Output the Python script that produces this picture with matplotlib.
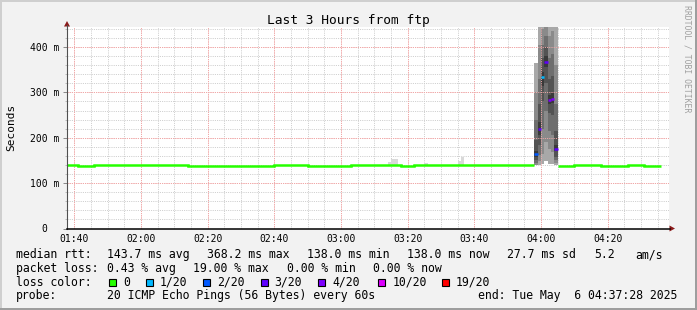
import matplotlib
matplotlib.use("Agg")
import matplotlib.pyplot as plt
from matplotlib.patches import Rectangle, Polygon
from matplotlib.lines import Line2D
from matplotlib.ticker import FixedLocator, MultipleLocator
import numpy as np

# ---------------- data ----------------
title = "Last 3 Hours from ftp"
view_start = "01:37:49"
view_end = "04:38:12"
x_tick_labels = ["01:40", "02:00", "02:20", "02:40", "03:00", "03:20", "03:40", "04:00", "04:20"]
y_tick_values = [0, 100, 200, 300, 400]
y_tick_labels = ["0  ", "100 m", "200 m", "300 m", "400 m"]
y_top = 444

# median rtt (ms), runs of whole minutes with 0 loss (green)
green_run_start = ["01:37", "01:41", "01:46", "01:50", "02:14", "02:40", "02:50", "03:03", "03:18",
                   "03:22", "03:43", "04:05", "04:10", "04:13", "04:18", "04:26", "04:31"]
green_run_end = ["01:41", "01:46", "01:50", "02:14", "02:40", "02:50", "03:03", "03:18", "03:22",
                 "03:43", "03:58", "04:10", "04:13", "04:18", "04:26", "04:31", "04:36"]
green_run_ms = [140, 138, 140, 139.5, 138, 140, 138, 140, 138, 140, 140.5, 138, 140, 139, 138, 140, 138]

# small smoke bumps during normal operation
bump_times = ["03:14", "03:15", "03:16", "03:25", "03:35", "03:36"]
bump_lo = [140, 140, 140, 140, 140, 140]
bump_hi = [147, 153, 153, 145, 149, 157]

# spike minutes: median, lost pings (of 20), deciles of received pings
spike_times = ["03:58", "03:59", "04:00", "04:01", "04:02", "04:03", "04:04"]
spike_median = [164, 220, 333, 367, 283, 286, 176]
spike_loss = [2, 3, 1, 3, 4, 4, 3]
spike_pings = [
    [140, 141, 144, 150, 158, 170, 195, 240, 300, 364],
    [141, 148, 162, 185, 205, 235, 275, 330, 405, 480],
    [143, 165, 220, 280, 315, 345, 375, 405, 440, 500],
    [148, 190, 260, 320, 355, 380, 400, 425, 455, 510],
    [143, 175, 215, 255, 275, 295, 330, 375, 425, 490],
    [142, 168, 205, 250, 276, 298, 335, 385, 435, 480],
    [140, 144, 150, 158, 170, 185, 215, 275, 360, 470],
]

loss_levels = [0, 1, 2, 3, 4, 10, 19]
loss_labels = ["0", "1/20", "2/20", "3/20", "4/20", "10/20", "19/20"]
loss_colors = ["#26ff00", "#00b8ff", "#0059ff", "#5e00ff", "#7e00ff", "#dd00ff", "#ff0000"]

rtt_items = ["143.7 ms avg", "368.2 ms max", "138.0 ms min", "138.0 ms now", "27.7 ms sd", "5.2", "am/s"]
pl_items = ["0.43 % avg", "19.00 % max", "0.00 % min", "0.00 % now"]
probe_text = "20 ICMP Echo Pings (56 Bytes) every 60s"
end_text = "end: Tue May  6 04:37:28 2025"
credit = "RRDTOOL / TOBI OETIKER"

# ---------------- helpers ----------------
def hm(s):
    p = [int(v) for v in s.split(":")]
    while len(p) < 3:
        p.append(0)
    return p[0] * 60 + p[1] + p[2] / 60.0

W, H = 697, 310
MONO = "DejaVu Sans Mono"
fig = plt.figure(figsize=(W / 100, H / 100), dpi=100, facecolor="#f2f2f2")

def fx(x):
    return x / W

def fy(y):
    return 1 - y / H

# frame shading
fig.patches.append(Rectangle((0, fy(2)), 1, 2 / H, transform=fig.transFigure, color="#cfcfcf", lw=0))
fig.patches.append(Rectangle((0, 0), 2 / W, 1, transform=fig.transFigure, color="#cfcfcf", lw=0))
fig.patches.append(Rectangle((0, 0), 1, 2 / H, transform=fig.transFigure, color="#9e9e9e", lw=0))
fig.patches.append(Rectangle((fx(W - 2), 0), 2 / W, 1, transform=fig.transFigure, color="#9e9e9e", lw=0))

L, R, T, B = 67, 668.5, 27, 228.5
ax = fig.add_axes([fx(L), fy(B), (R - L) / W, (B - T) / H])
ax.set_facecolor("white")
ax.set_xlim(hm(view_start), hm(view_end))
ax.set_ylim(0, y_top)
for s in ax.spines.values():
    s.set_visible(False)

# ticks / grid
xt = [hm(t) for t in x_tick_labels]
ax.xaxis.set_major_locator(FixedLocator(xt))
ax.set_xticklabels(x_tick_labels)
ax.xaxis.set_minor_locator(MultipleLocator(5))
ax.set_yticks(y_tick_values)
ax.set_yticklabels(y_tick_labels)
ax.yaxis.set_minor_locator(MultipleLocator(20))
ax.tick_params(axis="x", which="both", length=0, pad=4.3, labelsize=7.0)
ax.tick_params(axis="y", which="major", length=2.9, width=0.7, color="#888888", pad=2.4, labelsize=7.0, direction="out")
ax.tick_params(axis="y", which="minor", length=1.5, width=0.7, color="#bbbbbb", direction="out")
for lab in ax.get_xticklabels() + ax.get_yticklabels():
    lab.set_family(MONO)
ax.set_axisbelow(True)
GRID_MINOR = "#cdcdcd"
GRID_MAJOR = "#f0a8a8"
DOT = (0, (1, 1.2))
ax.grid(which="minor", color=GRID_MINOR, lw=0.72, ls=DOT)
ax.grid(which="major", color=GRID_MAJOR, lw=0.72, ls=DOT)

# smoke bumps
bt = np.array([hm(t) for t in bump_times])
for t0, lo, hi in zip(bt, bump_lo, bump_hi):
    ax.stairs([hi], [t0, t0 + 1], baseline=[lo], fill=True, color="#d9d9d9", lw=0, zorder=1)

# spike smoke
grays = ["#a8a8a8", "#8a8a8a", "#6e6e6e", "#535353", "#3a3a3a"]
st = np.array([hm(t) for t in spike_times])
edges = np.append(st, st[-1] + 1)
pings = np.array(spike_pings, dtype=float)
for j, g in enumerate(grays):
    ax.stairs(pings[:, 9 - j], edges, baseline=pings[:, j], fill=True, color=g, lw=0, zorder=1)

# major grid also shows on top of the smoke
for v in xt:
    ax.axvline(v, color=GRID_MAJOR, lw=0.72, ls=DOT, zorder=2)
for v in y_tick_values[1:]:
    ax.axhline(v, color=GRID_MAJOR, lw=0.72, ls=DOT, zorder=2)

# green median line
gs = np.array([hm(t) for t in green_run_start])
ge = np.array([hm(t) for t in green_run_end])
gv = np.array(green_run_ms, dtype=float)
split = np.where(gs[1:] != ge[:-1])[0]
groups = np.split(np.arange(len(gs)), split + 1)
for g in groups:
    e = np.append(gs[g], ge[g][-1])
    ax.stairs(gv[g], e, baseline=None, color=loss_colors[0], lw=1.8, zorder=3)

# spike medians coloured by loss
def loss_col(n):
    c = loss_colors[0]
    for lv, col in zip(loss_levels, loss_colors):
        if n >= lv:
            c = col
    return c

for t0, m, n in zip(st, spike_median, spike_loss):
    ax.hlines(m, t0, t0 + 1, color=loss_col(n), lw=1.8, zorder=3)

# axes lines and arrows
fig.lines.append(Line2D([fx(L), fx(L)], [fy(B + 0.5), fy(25)], transform=fig.transFigure, color="#505050", lw=0.8))
fig.lines.append(Line2D([fx(L - 0.5), fx(670)], [fy(B), fy(B)], transform=fig.transFigure, color="#000000", lw=1.1))
fig.patches.append(Polygon([(fx(L), fy(21)), (fx(L - 3), fy(26.5)), (fx(L + 3), fy(26.5))],
                           closed=True, transform=fig.transFigure, color="#8b1a1a", lw=0))
fig.patches.append(Polygon([(fx(675), fy(B)), (fx(669.5), fy(B - 3)), (fx(669.5), fy(B + 3))],
                           closed=True, transform=fig.transFigure, color="#8b1a1a", lw=0))

# texts
fig.text(fx(348.5), fy(24), title, family=MONO, fontsize=9.3, ha="center", va="baseline")
fig.text(fx(11), fy(127.5), "Seconds", family=MONO, fontsize=8.0, rotation=90, ha="center", va="center")
fig.text(fx(687.5), fy(5), credit, family=MONO, fontsize=5.9, rotation=270, ha="center", va="top", color="#a0a0a0")

FS = 8.3
rows_y = [258.3, 271.7, 285.7, 299.3]
fig.text(fx(16), fy(rows_y[0]), "median rtt:", family=MONO, fontsize=FS, va="baseline")
for txt, x in zip(rtt_items, [107.3, 207.3, 307.3, 407.3, 507.3, 594, 635]):
    fig.text(fx(x), fy(rows_y[0]), txt, family=MONO, fontsize=FS, va="baseline")
fig.text(fx(16), fy(rows_y[1]), "packet loss:", family=MONO, fontsize=FS, va="baseline")
for txt, x in zip(pl_items, [107.3, 193.3, 286.7, 372.7]):
    fig.text(fx(x), fy(rows_y[1]), txt, family=MONO, fontsize=FS, va="baseline")
fig.text(fx(16), fy(rows_y[2]), "loss color:", family=MONO, fontsize=FS, va="baseline")
for lab, col, x in zip(loss_labels, loss_colors, [109, 146, 203.3, 260.7, 318.3, 378.3, 441.7]):
    fig.patches.append(Rectangle((fx(x), fy(286)), 6.8 / W, 7.0 / H, transform=fig.transFigure,
                                 facecolor=col, edgecolor="black", lw=0.8))
    fig.text(fx(x + 14), fy(rows_y[2]), lab, family=MONO, fontsize=FS, va="baseline")
fig.text(fx(16), fy(rows_y[3]), "probe:", family=MONO, fontsize=FS, va="baseline")
fig.text(fx(107.3), fy(rows_y[3]), probe_text, family=MONO, fontsize=FS, va="baseline")
fig.text(fx(478.3), fy(rows_y[3]), end_text, family=MONO, fontsize=FS, va="baseline")

fig.savefig("out.png", dpi=100, facecolor=fig.get_facecolor())
